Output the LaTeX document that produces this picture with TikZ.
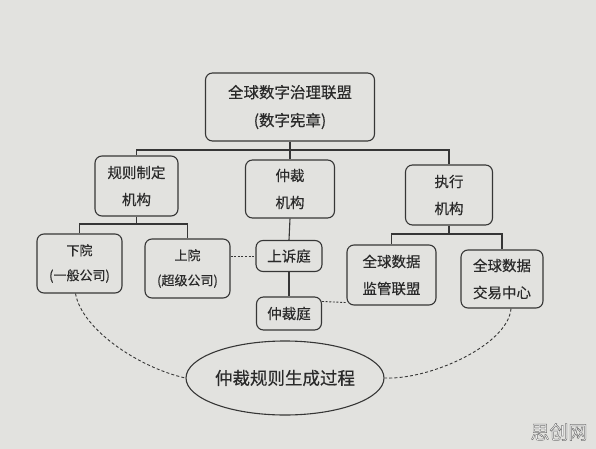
\documentclass[tikz,border=0pt]{standalone}
\usepackage{fontspec}
\setmainfont{Noto Sans CJK SC}[FakeBold=0.4]
\newfontfamily\wmfont[FakeBold=2.5]{Noto Sans CJK SC}
\usetikzlibrary{shapes.geometric,calc}
\definecolor{bg}{HTML}{E2E2DF}
\definecolor{ink}{HTML}{363636}
\definecolor{txt}{HTML}{2A2A2A}
\newcommand{\outlinedtext}[1]{\special{pdf:code 2 Tr 0.45 0.45 0.45 RG 0.9 w}#1\special{pdf:code 0 Tr}}
\tikzset{
  box/.style={draw=ink, line width=1.1pt, rounded corners=7pt, align=center,
    inner sep=0pt, text=txt},
  big/.style={font=\fontsize{15.5}{28}\selectfont},
  mid/.style={font=\fontsize{14.5}{27}\selectfont},
  small/.style={font=\fontsize{13}{25}\selectfont},
  link/.style={draw=ink, line width=1.1pt},
  dots/.style={draw=ink, line width=0.9pt, dash pattern=on 2pt off 1.6pt},
  dashcurve/.style={draw=ink, line width=0.9pt, dash pattern=on 3pt off 2.2pt},
}
\begin{document}
\begin{tikzpicture}[x=1pt, y=-1pt]
\fill[bg] (0,0) rectangle (596,449);
\useasboundingbox (0,0) rectangle (596,449);

% level 1
\node[box, big, minimum width=169pt, minimum height=68pt] (top) at (290,107)
  {全球数字治理联盟\\(数字宪章)};

% level 2
\node[box, mid, minimum width=83pt, minimum height=60pt] (rule) at (136.5,186)
  {规则制定\\机构};
\node[box, mid, minimum width=89pt, minimum height=58pt] (arb) at (290,189)
  {仲裁\\机构};
\node[box, mid, minimum width=87pt, minimum height=60pt] (exec) at (449,195)
  {执行\\机构};

% level 3
\node[box, small, minimum width=85pt, minimum height=59pt] (xia) at (79.5,263.5)
  {下院\\(一般公司)};
\node[box, small, minimum width=85pt, minimum height=59pt] (shang) at (187.5,268.5)
  {上院\\(超级公司)};
\node[box, mid, minimum width=66pt, minimum height=31pt] (appeal) at (289,256)
  {上诉庭};
\node[box, mid, minimum width=65pt, minimum height=33pt] (tribunal) at (289,313.5)
  {仲裁庭};
\node[box, mid, minimum width=89pt, minimum height=60pt] (super) at (391.5,275)
  {全球数据\\监管联盟};
\node[box, mid, minimum width=82pt, minimum height=58pt] (trade) at (502,279)
  {全球数据\\交易中心};

% ellipse
\node[ellipse, draw=ink, line width=1.1pt, minimum width=186pt, minimum height=74pt,
  inner sep=0pt, text=txt, font=\fontsize{17.5}{20}\selectfont] (ell) at (285,378)
  {仲裁规则生成过程};

% tree connectors
\coordinate (b1) at (136.5,150);
\coordinate (lb) at (136.5,224);
\coordinate (rb) at (449,234);
\draw[link] (top.south) -- (top.south |- b1);
\draw[link] (rule.north) -- (rule.north |- b1) -- (exec.north |- b1) -- (exec.north);
\draw[link] (arb.north) -- (arb.north |- b1);
\draw[link] (rule.south) -- (lb);
\draw[link] (xia.north) |- (lb) -| (shang.north);
\draw[link] (exec.south) -- (rb);
\draw[link] (super.north) |- (rb) -| (trade.north);
\draw[link] (arb.south) -- (appeal.north);
\draw[link] (appeal.south) -- (tribunal.north);

% dotted links
\draw[dots] (shang.east |- appeal.west) -- (appeal.west);
\draw[dots] (tribunal.20) -- ([yshift=3pt]super.south west);

% dashed curves
\draw[dashcurve] ([xshift=-4pt]xia.south) .. controls (82,330) and (140,368) .. (ell.west);
\draw[dashcurve] ([xshift=9pt]trade.south) .. controls (508,345) and (430,380) .. (ell.east);

% watermark
\node[text=white, font=\wmfont\fontsize{19}{20}\selectfont] (wm) at (559,432)
  {\outlinedtext{思创网}};
\end{tikzpicture}
\end{document}
